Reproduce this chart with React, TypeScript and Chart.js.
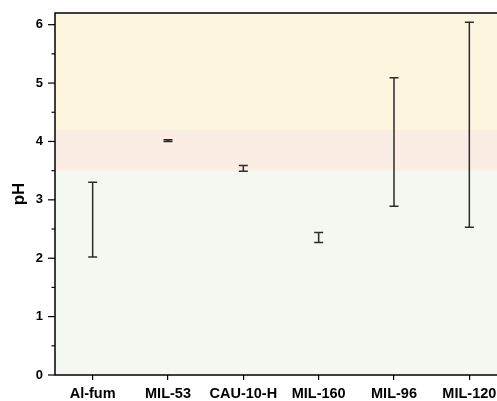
import React, { useEffect, useRef } from "react";
import { Chart, registerables } from "chart.js";

Chart.register(...registerables);

const categories = ["Al-fum", "MIL-53", "CAU-10-H", "MIL-160", "MIL-96", "MIL-120"];
const lowValues = [2.02, 4.0, 3.49, 2.27, 2.89, 2.53];
const highValues = [3.3, 4.03, 3.59, 2.44, 5.09, 6.04];
const bandEdges = [0, 3.5, 4.2, 6.2];
const bandColors = ["rgb(244,248,241)", "rgb(252,237,228)", "rgb(254,245,223)"];
const yTickValues = [0, 0.5, 1, 1.5, 2, 2.5, 3, 3.5, 4, 4.5, 5, 5.5, 6];
const yMin = 0;
const yMax = 6.2;

const errorPlugin = {
  id: "errorPlugin",
  beforeDatasetsDraw(chart: any) {
    const { ctx, chartArea, scales } = chart;
    const y = scales.y;
    ctx.save();
    for (let i = 0; i < bandColors.length; i++) {
      const yTop = Math.max(y.getPixelForValue(bandEdges[i + 1]), chartArea.top);
      const yBot = y.getPixelForValue(bandEdges[i]);
      ctx.fillStyle = bandColors[i];
      ctx.fillRect(chartArea.left, yTop, chartArea.right - chartArea.left, yBot - yTop);
    }
    ctx.restore();
  },
  afterDatasetsDraw(chart: any) {
    const { ctx, chartArea, scales } = chart;
    const y = scales.y;
    const meta = chart.getDatasetMeta(0);
    ctx.save();
    ctx.strokeStyle = "#2b2b2b";
    ctx.lineWidth = 1.5;
    meta.data.forEach((el: any, i: number) => {
      const x = el.x;
      const yl = y.getPixelForValue(lowValues[i]);
      const yh = y.getPixelForValue(highValues[i]);
      ctx.beginPath();
      ctx.moveTo(x, yl);
      ctx.lineTo(x, yh);
      ctx.moveTo(x - 4.5, yl);
      ctx.lineTo(x + 4.5, yl);
      ctx.moveTo(x - 4.5, yh);
      ctx.lineTo(x + 4.5, yh);
      ctx.stroke();
    });
    ctx.strokeStyle = "#000";
    ctx.lineWidth = 1.5;
    ctx.strokeRect(chartArea.left, chartArea.top, chartArea.right - chartArea.left, chartArea.bottom - chartArea.top);
    ctx.lineWidth = 1.2;
    y.ticks.forEach((t: any) => {
      const py = y.getPixelForValue(t.value);
      const major = Math.abs(t.value - Math.round(t.value)) < 1e-6;
      const len = major ? 7 : 3.5;
      ctx.beginPath();
      ctx.moveTo(chartArea.left - len, py);
      ctx.lineTo(chartArea.left, py);
      ctx.stroke();
    });
    ctx.restore();
  },
};

export default function App() {
  const ref = useRef<HTMLCanvasElement>(null);
  useEffect(() => {
    if (!ref.current) return;
    Chart.defaults.font.family = "'Liberation Sans', Arial, sans-serif";
    const chart = new Chart(ref.current, {
      type: "bar",
      data: {
        labels: categories,
        datasets: [
          {
            data: categories.map((_, i) => [lowValues[i], highValues[i]]) as any,
            backgroundColor: "rgba(0,0,0,0)",
            borderWidth: 0,
            barThickness: 1,
          },
        ],
      },
      options: {
        animation: false,
        responsive: false,
        devicePixelRatio: 1,
        layout: { padding: { top: 13, right: 13, left: 0, bottom: 0 } },
        plugins: { legend: { display: false }, tooltip: { enabled: false } },
        scales: {
          x: {
            grid: { display: true, offset: false, drawOnChartArea: false, drawTicks: true, tickLength: 5, color: "#000", lineWidth: 1.2 },
            border: { display: false },
            ticks: { color: "#000", font: { size: 14.5, weight: "bold" }, padding: 5, maxRotation: 0, autoSkip: false },
            afterFit: (s: any) => { s.height = 26; },
          },
          y: {
            min: yMin,
            max: yMax,
            grid: { display: true, drawOnChartArea: false, drawTicks: true, tickLength: 7, color: "rgba(0,0,0,0)" },
            border: { display: false },
            ticks: {
              color: "#000",
              padding: 5,
              font: { size: 13, weight: "bold" },
              callback: (v: any) => (Math.abs(v - Math.round(v)) < 1e-6 ? String(Math.round(v)) : ""),
            },
            afterBuildTicks: (s: any) => {
              s.ticks = yTickValues.map((v) => ({ value: v }));
            },
            afterFit: (s: any) => { s.width = 55; },
            title: { display: true, text: "pH", color: "#000", font: { size: 17, weight: "bold" }, padding: { top: 9, bottom: 0 } },
          },
        },
      },
      plugins: [errorPlugin],
    });
    return () => chart.destroy();
  }, []);
  return (
    <div style={{ position: "fixed", left: 0, top: 0, width: 497, height: 401, overflow: "hidden", background: "#fff" }}>
      <canvas ref={ref} width={520} height={401} style={{ display: "block" }} />
    </div>
  );
}
